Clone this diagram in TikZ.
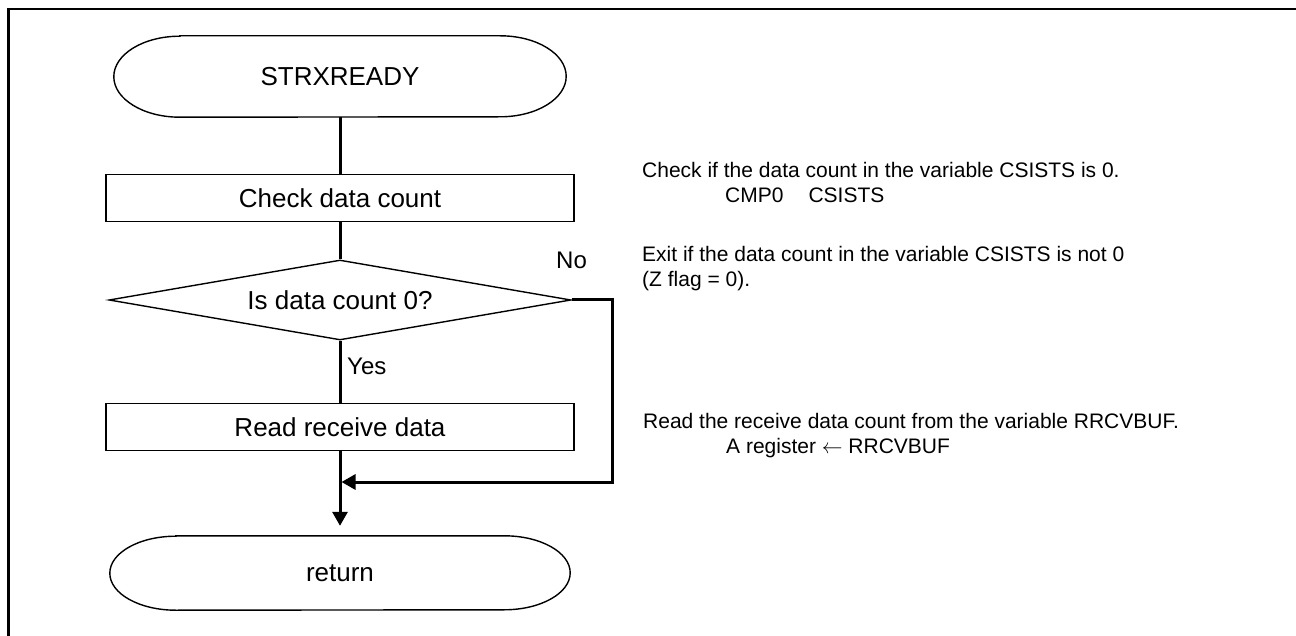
\documentclass[tikz,border=0pt]{standalone}
\usepackage{fontspec}
\setmainfont{Liberation Sans}
\usetikzlibrary{arrows.meta,shapes.geometric}
\begin{document}
\begin{tikzpicture}[x=1pt,y=1pt,
  outline/.style={draw,line width=1.4pt},
  box/.style={outline,minimum width=468pt,minimum height=47pt,inner sep=0pt,font=\fontsize{26}{30}\selectfont},
  termtext/.style={minimum width=#1,inner sep=0pt,font=\fontsize{26}{30}\selectfont},
  dec/.style={outline,shape=diamond,aspect=5.8,minimum width=462pt,minimum height=80pt,inner sep=0pt,font=\fontsize{26}{30}\selectfont},
  conn/.style={line width=3pt},
  tip/.style={-{Triangle[length=14pt,width=15pt]}},
  lbl/.style={inner sep=0pt,anchor=base west,font=\fontsize{24}{28}\selectfont},
  note/.style={inner sep=0pt,anchor=base west,font=\fontsize{21}{25}\selectfont}
]
\useasboundingbox (0,0) rectangle (1296,-636);
% frame
\draw[line width=2.5pt] (8.5,-636) -- (8.5,-9) -- (1296,-9);

% start terminal
\node[termtext=452pt,minimum height=81pt] (s) at (340,-76.5) {STRXREADY};
\draw[outline] ([xshift=66pt]s.north west) -- ([xshift=-66pt]s.north east)
  arc[start angle=90,end angle=-90,x radius=66pt,y radius=40.5pt]
  -- ([xshift=66pt]s.south west)
  arc[start angle=270,end angle=90,x radius=66pt,y radius=40.5pt] -- cycle;

\node[box] (check) at (340,-198) {Check data count};
\node[dec] (dec) at (340,-300) {Is data count 0?};
\node[box] (read) at (340,-427) {Read receive data};

% return terminal
\node[termtext=460pt,minimum height=74pt] (ret) at (340,-573) {return};
\draw[outline] ([xshift=66pt]ret.north west) -- ([xshift=-66pt]ret.north east)
  arc[start angle=90,end angle=-90,x radius=66pt,y radius=37pt]
  -- ([xshift=66pt]ret.south west)
  arc[start angle=270,end angle=90,x radius=66pt,y radius=37pt] -- cycle;

% connectors
\draw[conn] (s) -- (check);
\draw[conn] (check) -- (dec);
\draw[conn] (dec) -- (read);
\coordinate (j) at (341.5,-482);
\coordinate (r) at (612,-482);
\draw[conn,tip] (dec.east) -| (r) -- (j);
\draw[conn,tip,shorten >=10pt] (read) -- (ret);

\node[lbl] (yes) at (347,-374) {Yes};
\node[lbl] (no) at (556,-269) {No};

% notes
\node[note] (n1a) at (642,-178) {Check if the data count in the variable CSISTS is 0.};
\node[note] (n1b) at (725,-203) {CMP0\hspace{25pt}CSISTS};
\node[note] (n2a) at (642,-262) {Exit if the data count in the variable CSISTS is not 0};
\node[note] (n2b) at (642,-287) {(Z flag = 0).};
\node[note] (n3a) at (643,-428) {Read the receive data count from the variable RRCVBUF.};
\node[note] (n3b) at (726,-453) {A register $\leftarrow$ RRCVBUF};
\end{tikzpicture}
\end{document}
